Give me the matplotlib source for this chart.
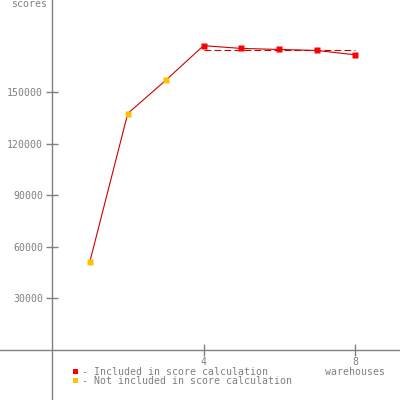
import matplotlib
matplotlib.use("Agg")
import matplotlib.pyplot as plt

warehouses = [1, 2, 3, 4, 5, 6, 7, 8]
scores = [51500, 137700, 157000, 177200, 175600, 175000, 174400, 171900]
included = [False, False, False, True, True, True, True, True]
score_line = 174800
score_range = [4, 8]
y_ticks = [30000, 60000, 90000, 120000, 150000]
x_ticks = [4, 8]

GRAY = "#808080"
RED = "#ff0000"
ORANGE = "#ffc000"
LINE = "#cc0000"
FONT = "DejaVu Sans Mono"
FS = 7.1

fig = plt.figure(figsize=(4, 4), dpi=100)
ax = fig.add_axes([0, 0, 1, 1])
ax.set_xlim(-1.373, 9.188)
ax.set_ylim(-29100, 203800)

for s in ["top", "right"]:
    ax.spines[s].set_visible(False)
for s in ["left", "bottom"]:
    ax.spines[s].set_position(("data", 0))
    ax.spines[s].set_color(GRAY)
    ax.spines[s].set_linewidth(1)

ax.set_yticks(y_ticks)
ax.set_yticklabels([str(v) for v in y_ticks], fontfamily=FONT, fontsize=FS, color=GRAY)
ax.set_xticks(x_ticks)
ax.set_xticklabels([str(v) for v in x_ticks], fontfamily=FONT, fontsize=FS, color=GRAY)
ax.tick_params(axis="both", direction="inout", length=9, width=1, color=GRAY, pad=2)
ax.tick_params(axis="x", pad=0.3)

ax.plot(score_range, [score_line, score_line], color=LINE, lw=0.8, dashes=(6, 3), zorder=2)
ax.plot(warehouses, scores, color=LINE, lw=0.8, zorder=3)
for w, s, inc in zip(warehouses, scores, included):
    ax.plot([w], [s], marker="s", ms=3.8, mec="none", mfc=RED if inc else ORANGE, zorder=4)

ax.text(47 / 400, 1.0 + 1 / 400, "scores", transform=ax.transAxes, ha="right", va="top",
        fontfamily=FONT, fontsize=FS, color=GRAY)
ax.text(8, -12700, "warehouses", ha="center", va="center", fontfamily=FONT, fontsize=FS, color=GRAY)

# legend
fig.patches.append(plt.Rectangle((73 / 400, 1 - 374 / 400), 5 / 400, 5 / 400,
                                 transform=fig.transFigure, color=RED, lw=0))
fig.patches.append(plt.Rectangle((73 / 400, 1 - 383 / 400), 5 / 400, 5 / 400,
                                 transform=fig.transFigure, color=ORANGE, lw=0))
fig.text(82 / 400, 1 - 372 / 400, "- Included in score calculation", ha="left", va="center",
         fontfamily=FONT, fontsize=FS, color=GRAY)
fig.text(82 / 400, 1 - 381 / 400, "- Not included in score calculation", ha="left", va="center",
         fontfamily=FONT, fontsize=FS, color=GRAY)

fig.savefig("out.png", dpi=100)
